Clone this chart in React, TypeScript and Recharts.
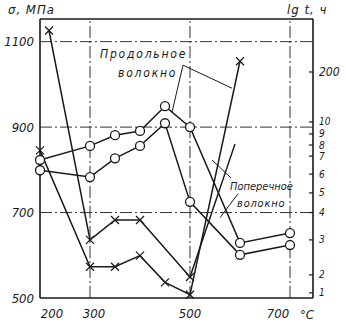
import React from "react";
import {
  LineChart,
  Line,
  XAxis,
  YAxis,
  ReferenceLine,
} from "recharts";

// strength, MPa (circles)
const TEMPS = [200, 300, 350, 400, 450, 500, 600, 700];
const SIGMA_LONG = [823, 856, 881, 891, 949, 900, 629, 652];
const SIGMA_TRANS = [799, 783, 827, 856, 909, 725, 601, 624];

// time to failure, hours (crosses)
const TEMPS_T_LONG = [200, 300, 350, 400, 450, 500, 600];
const HOURS_LONG = [7.5, 2.2, 2.2, 2.5, 1.5, 0.93, 380];
const TEMPS_T_TRANS = [218, 300, 350, 400, 500, 590];
const HOURS_TRANS = [2400, 3.0, 3.7, 3.7, 1.85, 8.1];

const X_TICKS = [200, 300, 500, 700];
const LEFT_TICKS = [500, 700, 900, 1100];
const GRID_Y = [700, 900, 1100];
const GRID_X = [300, 500, 700];

// right axis (lg t) is drawn against the σ scale
const RIGHT_LABELS = [1, 2, 3, 4, 5, 6, 7, 8, 9, 10, 200];
const RIGHT_AT = [512, 554, 636, 700, 746, 790, 832, 858, 884, 912, 1029];

const X_DOMAIN = [200, 746];
const Y_DOMAIN = [500, 1153];

const INK = "#1a1a1a";
const FONT = "'DejaVu Sans Condensed', 'DejaVu Sans', sans-serif";

function hoursToAxis(h: number) {
  const lh = Math.log10(h);
  let i = 0;
  while (i < RIGHT_LABELS.length - 2 && Math.log10(RIGHT_LABELS[i + 1]) < lh) i++;
  const l0 = Math.log10(RIGHT_LABELS[i]);
  const l1 = Math.log10(RIGHT_LABELS[i + 1]);
  const t = (lh - l0) / (l1 - l0);
  return RIGHT_AT[i] + t * (RIGHT_AT[i + 1] - RIGHT_AT[i]);
}

const longSigma = TEMPS.map((t, i) => ({ t, v: SIGMA_LONG[i] }));
const transSigma = TEMPS.map((t, i) => ({ t, v: SIGMA_TRANS[i] }));
const longHours = TEMPS_T_LONG.map((t, i) => ({ t, v: hoursToAxis(HOURS_LONG[i]), mark: true }));
const transHours = TEMPS_T_TRANS.map((t, i) => ({
  t,
  v: hoursToAxis(HOURS_TRANS[i]),
  mark: i < TEMPS_T_TRANS.length - 1,
}));

// leader lines from the captions
const LEADERS = [
  [{ x: 486, y: 1045 }, { x: 584, y: 991 }],
  [{ x: 486, y: 1045 }, { x: 464, y: 935 }],
  [{ x: 582, y: 781 }, { x: 544, y: 823 }],
  [{ x: 596, y: 744 }, { x: 560, y: 688 }],
];

const Circle = (props: any) => {
  const { cx, cy, index } = props;
  return <circle key={index} cx={cx} cy={cy} r={4.5} fill="#fff" stroke={INK} strokeWidth={1.3} />;
};

const Cross = (props: any) => {
  const { cx, cy, index, payload } = props;
  if (!payload.mark) return <g key={index} />;
  const s = 4;
  return (
    <g key={index} stroke={INK} strokeWidth={1.3}>
      <line x1={cx - s} y1={cy - s} x2={cx + s} y2={cy + s} />
      <line x1={cx - s} y1={cy + s} x2={cx + s} y2={cy - s} />
    </g>
  );
};

const RightTick = (props: any) => {
  const { x, y, payload } = props;
  const idx = RIGHT_AT.indexOf(payload.value);
  const label = RIGHT_LABELS[idx];
  return (
    <g>
      <line x1={x - 10} y1={y} x2={x - 6} y2={y} stroke={INK} strokeWidth={1.2} />
      <text x={x} y={y} dy="0.35em" textAnchor="start" fontSize={label === 200 ? 12 : 10} fontStyle="italic" fontFamily={FONT} fill={INK}>
        {label}
      </text>
    </g>
  );
};

// the scanned labels sit a little off their gridlines
const BottomTick = (props: any) => {
  const { x, y, payload, index } = props;
  const shift = [12, 4, 0, -12][index] ?? 0;
  return (
    <text x={x + shift} y={y} dy="0.71em" textAnchor="middle" fontSize={13} fontStyle="italic" fontFamily={FONT} fill={INK}>
      {payload.value}
    </text>
  );
};

const tickStyle = { fontSize: 13, fontStyle: "italic", fontFamily: FONT, fill: INK };

export default function App() {
  return (
    <div style={{ position: "absolute", left: 0, top: 0, width: 346, height: 322, background: "#fff" }}>
      <LineChart width={346} height={322} margin={{ top: 19, right: 0, bottom: 0, left: 0 }}>
        <XAxis
          dataKey="t"
          type="number"
          domain={X_DOMAIN}
          ticks={X_TICKS}
          interval={0}
          allowDuplicatedCategory={false}
          height={24}
          tickSize={0}
          tickMargin={11}
          tick={<BottomTick />}
          axisLine={{ stroke: INK, strokeWidth: 1.6 }}
        />
        <YAxis
          yAxisId="l"
          type="number"
          domain={Y_DOMAIN}
          ticks={LEFT_TICKS}
          interval={0}
          width={40}
          tickSize={0}
          tickMargin={6}
          tick={tickStyle}
          axisLine={{ stroke: INK, strokeWidth: 1.6 }}
        />
        <YAxis
          yAxisId="r"
          orientation="right"
          type="number"
          domain={Y_DOMAIN}
          ticks={RIGHT_AT}
          interval={0}
          width={33}
          tickSize={0}
          tickMargin={6}
          tick={<RightTick />}
          axisLine={{ stroke: INK, strokeWidth: 1.6 }}
        />
        <ReferenceLine yAxisId="l" y={Y_DOMAIN[1]} stroke={INK} strokeWidth={1.4} />
        {GRID_Y.map((v) => (
          <ReferenceLine key={"gy" + v} yAxisId="l" y={v} stroke="#333" strokeWidth={1} strokeDasharray="12 3 2 3" />
        ))}
        {GRID_X.map((v) => (
          <ReferenceLine key={"gx" + v} yAxisId="l" x={v} stroke="#333" strokeWidth={1} strokeDasharray="12 3 2 3" />
        ))}
        {LEADERS.map((seg, i) => (
          <ReferenceLine key={"ld" + i} yAxisId="l" segment={seg} stroke={INK} strokeWidth={1} ifOverflow="visible" />
        ))}
        <Line yAxisId="r" data={longHours} dataKey="v" stroke={INK} strokeWidth={1.5} dot={Cross} isAnimationActive={false} />
        <Line yAxisId="r" data={transHours} dataKey="v" stroke={INK} strokeWidth={1.5} dot={Cross} isAnimationActive={false} />
        <Line yAxisId="l" data={longSigma} dataKey="v" stroke={INK} strokeWidth={1.5} dot={Circle} isAnimationActive={false} />
        <Line yAxisId="l" data={transSigma} dataKey="v" stroke={INK} strokeWidth={1.5} dot={Circle} isAnimationActive={false} />
      </LineChart>
      <svg
        width={346}
        height={322}
        style={{ position: "absolute", left: 0, top: 0, pointerEvents: "none" }}
        fontFamily={FONT}
        fontStyle="italic"
        fill={INK}
      >
        <text x={8} y={14} fontSize={13} letterSpacing={1}>σ, МПа</text>
        <text x={287} y={14} fontSize={13} letterSpacing={1}>lg t, ч</text>
        <text x={100} y={58} fontSize={12} letterSpacing={1.8}>Продольное</text>
        <text x={118} y={77} fontSize={12} letterSpacing={1.8}>волокно</text>
        <text x={230} y={190} fontSize={11}>Поперечное</text>
        <text x={237} y={207} fontSize={11} letterSpacing={0.8}>волокно</text>
        <text x={300} y={319} fontSize={13}>°C</text>
      </svg>
    </div>
  );
}
